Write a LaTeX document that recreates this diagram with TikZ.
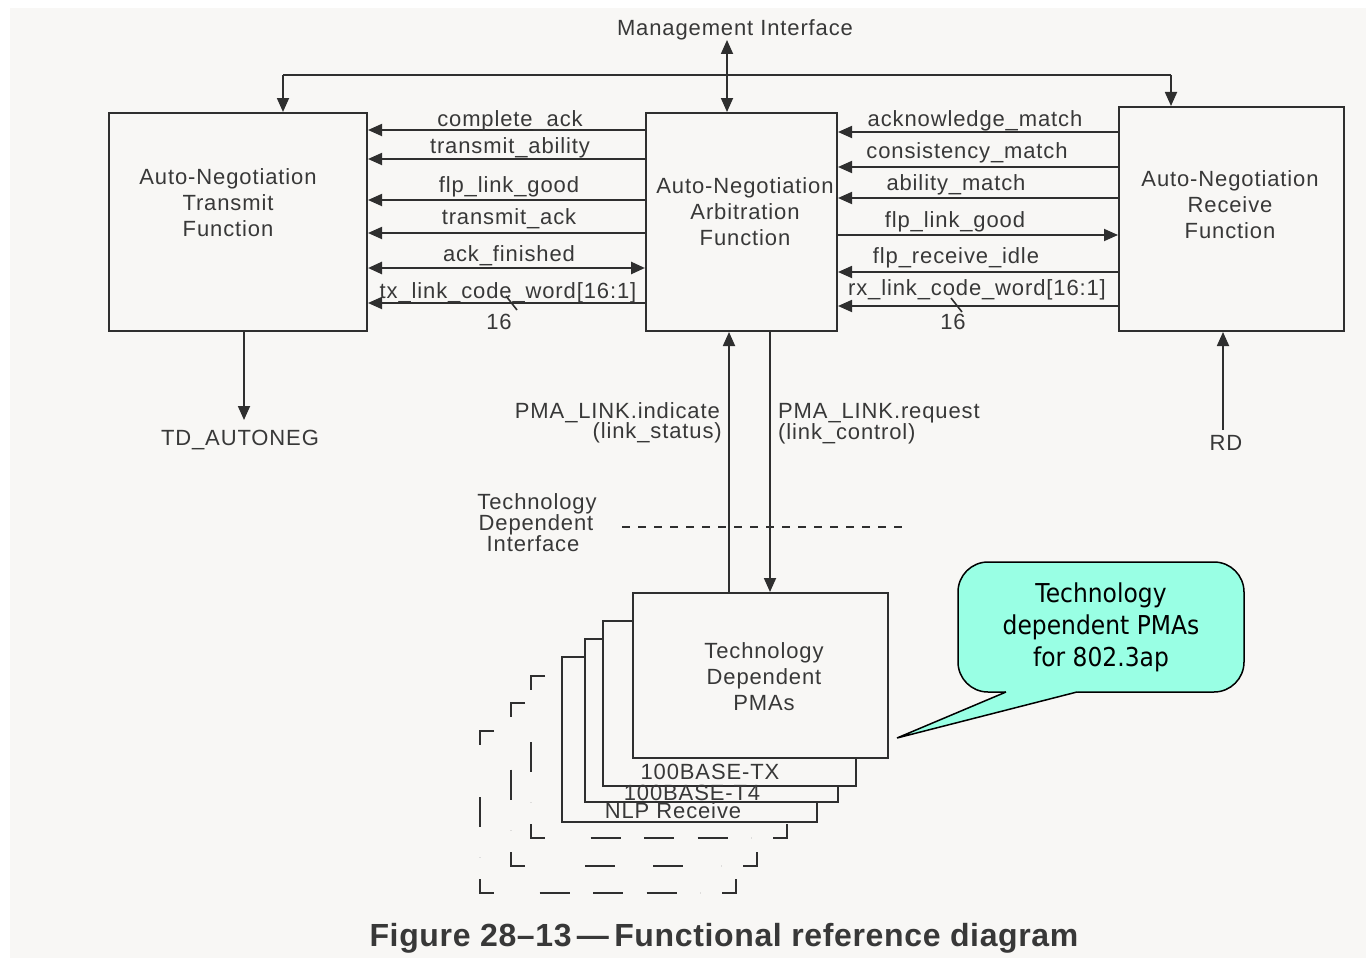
\documentclass[tikz,border=0pt]{standalone}
\usepackage{fontspec}
\setmainfont{Liberation Sans}[LetterSpace=4]
\newfontfamily\capfont{Liberation Sans}[LetterSpace=2]
\newfontfamily\calloutfont[FakeStretch=0.9]{DejaVu Sans}
\usetikzlibrary{arrows.meta,decorations}
\definecolor{panel}{HTML}{F8F7F5}
\definecolor{ink}{HTML}{2F2F2F}
\definecolor{txt}{HTML}{383838}
\definecolor{bubble}{RGB}{153,255,228}
\newcommand\lblfont{\fontsize{22}{26}\selectfont}
% dashed outline of a further PMA layer: solid corners, dashed edges
\newcommand\ghostframe[4]{%
  \fill[panel] (#1,#2) rectangle (#3,#4);
  \draw[frame] ({#1+14},#2) -- (#1,#2) -- (#1,{#2+14});
  \draw[frame] (#1,{#4-14}) -- (#1,#4) -- ({#1+14},#4);
  \draw[frame] ({#3-14},#4) -- (#3,#4) -- (#3,{#4-14});
  \draw[frame] (#3,{#2+14}) -- (#3,#2) -- ({#3-14},#2);
  \draw[edgedash] (#1,{#2+36}) -- (#1,{#4-36});
  \draw[edgedash] ({#1+36},#4) -- ({#3-36},#4);
  \draw[edgedash] (#3,{#4-36}) -- (#3,{#2+36});
  \draw[edgedash] ({#3-36},#2) -- ({#1+36},#2);
}

\begin{document}
\begin{tikzpicture}[x=1pt,y=-1pt,
  block/.style={draw=ink, line width=2pt, fill=panel, inner sep=0pt, minimum width=#1},
  lbl/.style={text=txt, font=\lblfont, inner sep=0pt},
  ctr/.style={lbl, align=center},
  sig/.style={draw=ink, line width=1.8pt, -{Triangle[length=14pt,width=12pt]}},
  bisig/.style={draw=ink, line width=1.8pt, {Triangle[length=14pt,width=12pt]}-{Triangle[length=14pt,width=12pt]}},
  plain/.style={draw=ink, line width=1.8pt},
  frame/.style={draw=ink, line width=2pt, line join=miter},
  edgedash/.style={draw=ink, line width=2pt, dash pattern=on 30pt off 22pt, dash expand off},
  stack/.style={draw=ink, line width=2pt, fill=panel},
  bus/.style={draw=ink, line width=1.6pt}
]
\useasboundingbox (0,0) rectangle (1366,958);
\fill[white] (0,0) rectangle (1366,958);
\fill[panel] (10,8) rectangle (1366,958);

% ---- main function blocks ----
\node[block=258pt, minimum height=218pt] (tx)  at (238,222)    {};
\node[block=191pt, minimum height=218pt] (arb) at (741.5,222)  {};
\node[block=225pt, minimum height=224pt] (rx)  at (1231.5,219) {};

\node[ctr] (txtext)  at (228,203)  {Auto-Negotiation\\Transmit\\Function};
\node[ctr] (arbtext) at (745,212)  {Auto-Negotiation\\Arbitration\\Function};
\node[ctr] (rxtext)  at (1230,205) {Auto-Negotiation\\Receive\\Function};

% ---- management interface ----
\node[lbl] (mgmt) at (735,30) {Management Interface};
\coordinate (mtop) at (727,40);
\coordinate (mleft) at (283,75);
\coordinate (mright) at (1171,75);
\draw[bisig] (mtop) -- (arb.north -| mtop);
\draw[plain] (mleft) -- (mright);
\draw[sig] (mleft) -- (tx.north -| mleft);
\draw[sig] (mright) -- (rx.north -| mright);

% ---- arbitration <-> transmit signals ----
\draw[sig]   (arb.west |- 0,130) -- (tx.east |- 0,130);
\draw[sig]   (arb.west |- 0,159) -- (tx.east |- 0,159);
\draw[sig]   (arb.west |- 0,200) -- (tx.east |- 0,200);
\draw[sig]   (arb.west |- 0,233) -- (tx.east |- 0,233);
\draw[bisig, line width=2.6pt] (tx.east |- 0,268) -- (arb.west |- 0,268);
\draw[sig]   (arb.west |- 0,303) -- (tx.east |- 0,303);
\draw[bus] (506,296) -- (517,310);

\node[lbl, anchor=base] (l1) at (510,126) {complete\_ack};
\node[lbl, anchor=base] (l2) at (510,153) {transmit\_ability};
\node[lbl, anchor=base] (l3) at (509,192) {flp\_link\_good};
\node[lbl, anchor=base] (l4) at (509,224) {transmit\_ack};
\node[lbl, anchor=base] (l5) at (509,261) {ack\_finished};
\node[lbl, anchor=base] (l6) at (508,298) {tx\_link\_code\_word[16:1]};
\node[lbl, anchor=base] (l7) at (499,329) {16};

% ---- receive -> arbitration signals ----
\draw[sig] (rx.west |- 0,132) -- (arb.east |- 0,132);
\draw[sig] (rx.west |- 0,167) -- (arb.east |- 0,167);
\draw[sig] (rx.west |- 0,198) -- (arb.east |- 0,198);
\draw[sig] (arb.east |- 0,235) -- (rx.west |- 0,235);
\draw[sig] (rx.west |- 0,272) -- (arb.east |- 0,272);
\draw[sig] (rx.west |- 0,306) -- (arb.east |- 0,306);
\draw[bus] (951,298) -- (962,312);

\node[lbl, anchor=base] (r1) at (975,126) {acknowledge\_match};
\node[lbl, anchor=base] (r2) at (967,158) {consistency\_match};
\node[lbl, anchor=base] (r3) at (956,190) {ability\_match};
\node[lbl, anchor=base] (r4) at (955,227) {flp\_link\_good};
\node[lbl, anchor=base] (r5) at (956,263) {flp\_receive\_idle};
\node[lbl, anchor=base] (r6) at (977,295) {rx\_link\_code\_word[16:1]};
\node[lbl, anchor=base] (r7) at (953,329) {16};

% ---- external outputs ----
\node[lbl] (tdauto) at (240,440) {TD\_AUTONEG};
\coordinate (tdtip) at (244,420);
\draw[sig] (tx.south -| tdtip) -- (tdtip);
\node[lbl] (rd) at (1226,443) {RD};
\coordinate (rdfoot) at (1223,430);
\draw[sig] (rdfoot) -- (rx.south -| rdfoot);

% ---- technology dependent interface ----
\draw[draw=ink, line width=1.4pt, dash pattern=on 8pt off 8pt] (622,527) -- (908,527);
\node[lbl, anchor=base] (tdi1) at (537,509) {Technology};
\node[lbl, anchor=base] (tdi2) at (536,530) {Dependent};
\node[lbl, anchor=base] (tdi3) at (533,551) {Interface};

% ---- stacked PMA boxes, back to front ----
\ghostframe{480}{731}{736}{893}
\ghostframe{511}{703}{757}{866}
\ghostframe{531}{676}{787}{838}
\draw[stack] (562,657) rectangle (817,822);
\draw[stack] (585,639) rectangle (838,802);
\draw[stack] (603,621) rectangle (856,786);
\node[block=255pt, minimum height=165pt] (pma) at (760.5,675.5) {};
\node[ctr] (pmatext) at (764,677) {Technology\\Dependent\\PMAs};
\node[lbl] (s1) at (710,772) {100BASE-TX};
\node[lbl] (s2) at (692,793) {100BASE-T4};
\node[lbl] (s3) at (673,811) {NLP Receive};

% ---- PMA service primitives ----
\coordinate (ind) at (729,0);
\coordinate (req) at (770,0);
\draw[sig] (pma.north -| ind) -- (arb.south -| ind);
\draw[sig] (arb.south -| req) -- (pma.north -| req);
\node[lbl, anchor=base east] (pi1) at (720,418) {PMA\_LINK.indicate};
\node[lbl, anchor=base east] (pi2) at (722,438) {(link\_status)};
\node[lbl, anchor=base west] (pr1) at (778,418) {PMA\_LINK.request};
\node[lbl, anchor=base west] (pr2) at (778,439) {(link\_control)};

% ---- callout ----
\node[draw=black, line width=1.5pt, fill=bubble, rounded corners=30pt,
      minimum width=286pt, minimum height=130pt, align=center,
      font={\calloutfont\fontsize{26}{32}\selectfont}, text=black] (callout) at (1101,627)
      {Technology\\dependent PMAs\\for 802.3ap};
\coordinate (tipA) at (1006,692);
\coordinate (tipB) at (1077,692);
\coordinate (tip) at (897,738);
\fill[bubble] (tipA) -- (tip) -- (tipB) -- ([yshift=4pt]tipB) -- ([yshift=4pt]tipA) -- cycle;
\draw[black, line width=1.5pt, line join=miter] (tipA) -- (tip) -- (tipB);

% ---- caption ----
\node[text=txt, inner sep=0pt, font={\capfont\bfseries\fontsize{32}{36}\selectfont}] (caption) at (724,938)
  {Figure 28–13\,—\,Functional reference diagram};
\end{tikzpicture}
\end{document}
